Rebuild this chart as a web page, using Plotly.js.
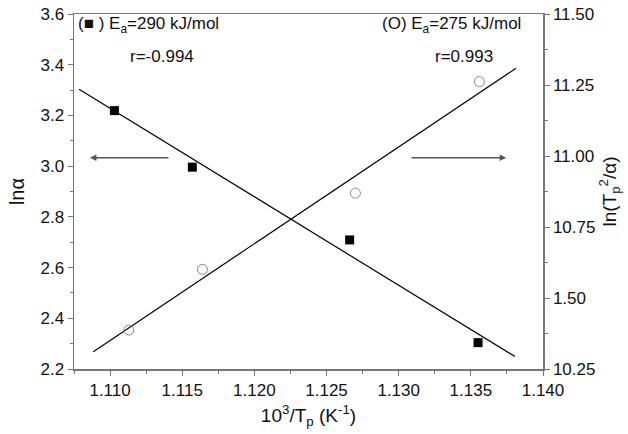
<!DOCTYPE html>
<html>
<head>
<meta charset="utf-8">
<script src="https://cdn.plot.ly/plotly-3.0.1.min.js"></script>
<style>html,body{margin:0;padding:0;background:#fff;}#chart{width:628px;height:434px;}</style>
</head>
<body>
<div id="chart"></div>
<script>
// Square series (left axis, ln alpha)
const sqX = [1.1103, 1.1157, 1.1266, 1.1355];
const sqY = [3.219, 2.996, 2.709, 2.304];
// Circle series (right axis, ln(Tp^2/alpha))
const ciX = [1.1113, 1.1164, 1.1270, 1.1356];
const ciY = [10.387, 10.601, 10.869, 11.262];
// Fitted lines (endpoints)
const sqFitX = [1.10785, 1.13806];
const sqFitY = [3.303, 2.249];
const ciFitX = [1.10884, 1.13813];
const ciFitY = [10.311, 11.309];
// Right axis tick values and labels (as printed)
const y2TickVals = [10.25, 10.5, 10.75, 11.0, 11.25, 11.5];
const y2TickText = ['10.25', '1.50', '10.75', '11.00', '11.25', '11.50'];

const FONT = 'Liberation Sans, Arial, Helvetica, sans-serif';
const AX = '#777';

const traces = [
  {x: sqFitX, y: sqFitY, mode: 'lines', line: {color: '#000', width: 1.2}, yaxis: 'y', hoverinfo: 'skip'},
  {x: ciFitX, y: ciFitY, mode: 'lines', line: {color: '#000', width: 1.2}, yaxis: 'y2', hoverinfo: 'skip'},
  {x: sqX, y: sqY, mode: 'markers', marker: {symbol: 'square', size: 9, color: '#000'}, yaxis: 'y'},
  {x: ciX, y: ciY, mode: 'markers', marker: {symbol: 'circle-open', size: 10, color: '#888', line: {width: 1}}, yaxis: 'y2'}
];

const axisCommon = {
  showgrid: false, zeroline: false, showline: true, linecolor: AX, linewidth: 1.5,
  ticks: 'outside', ticklen: 5, tickwidth: 1, tickcolor: AX,
  tickfont: {family: FONT, size: 17, color: '#111'}
};

const layout = {
  width: 628, height: 434,
  margin: {l: 74, r: 85, t: 14, b: 65},
  paper_bgcolor: '#fff', plot_bgcolor: '#fff',
  showlegend: false,
  font: {family: FONT, color: '#111'},
  xaxis: Object.assign({}, axisCommon, {
    range: [1.1075, 1.140], tick0: 1.110, dtick: 0.005, tickformat: '.3f',
    mirror: true,
    minor: {dtick: 0.0025, ticks: 'outside', ticklen: 3, tickcolor: AX, showgrid: false},
    title: {text: '10<sup>3</sup>/T<sub>p</sub> (K<sup>-1</sup>)', font: {family: FONT, size: 19, color: '#111'}, standoff: 10}
  }),
  yaxis: Object.assign({}, axisCommon, {
    range: [2.2, 3.6], tick0: 2.2, dtick: 0.2, tickformat: '.1f',
    minor: {dtick: 0.1, ticks: 'outside', ticklen: 3, tickcolor: AX, showgrid: false},
    title: {text: 'ln\u03B1', font: {family: FONT, size: 20, color: '#111'}, standoff: 10}
  }),
  yaxis2: Object.assign({}, axisCommon, {
    overlaying: 'y', side: 'right', range: [10.25, 11.5],
    tickmode: 'array', tickvals: y2TickVals, ticktext: y2TickText,
    minor: {tick0: 10.25, dtick: 0.125, ticks: 'outside', ticklen: 3, tickcolor: AX, showgrid: false},
    title: {text: 'ln(T<sub>p</sub><sup>2</sup>/\u03B1)', font: {family: FONT, size: 19, color: '#111'}, standoff: 8}
  }),
  annotations: [
    {xref: 'paper', yref: 'paper', x: 0.004, y: 0.969, xanchor: 'left', yanchor: 'middle', showarrow: false,
     text: '(\u25A0 ) E<sub>a</sub>=290 kJ/mol', font: {family: FONT, size: 17, color: '#111'}},
    {xref: 'paper', yref: 'paper', x: 0.115, y: 0.879, xanchor: 'left', yanchor: 'middle', showarrow: false,
     text: 'r=-0.994', font: {family: FONT, size: 17, color: '#111'}},
    {xref: 'paper', yref: 'paper', x: 0.652, y: 0.969, xanchor: 'left', yanchor: 'middle', showarrow: false,
     text: '(O) E<sub>a</sub>=275 kJ/mol', font: {family: FONT, size: 17, color: '#111'}},
    {xref: 'paper', yref: 'paper', x: 0.765, y: 0.879, xanchor: 'left', yanchor: 'middle', showarrow: false,
     text: 'r=0.993', font: {family: FONT, size: 17, color: '#111'}},
    {xref: 'x', yref: 'y', x: 1.10861, y: 3.033, axref: 'x', ayref: 'y', ax: 1.11415, ay: 3.033,
     text: '', showarrow: true, arrowhead: 2, arrowsize: 0.8, arrowwidth: 1.6, arrowcolor: '#555'},
    {xref: 'x', yref: 'y', x: 1.13744, y: 3.033, axref: 'x', ayref: 'y', ax: 1.13078, ay: 3.033,
     text: '', showarrow: true, arrowhead: 2, arrowsize: 0.8, arrowwidth: 1.6, arrowcolor: '#555'}
  ]
};

Plotly.newPlot('chart', traces, layout, {staticPlot: true, displayModeBar: false});
</script>
</body>
</html>
